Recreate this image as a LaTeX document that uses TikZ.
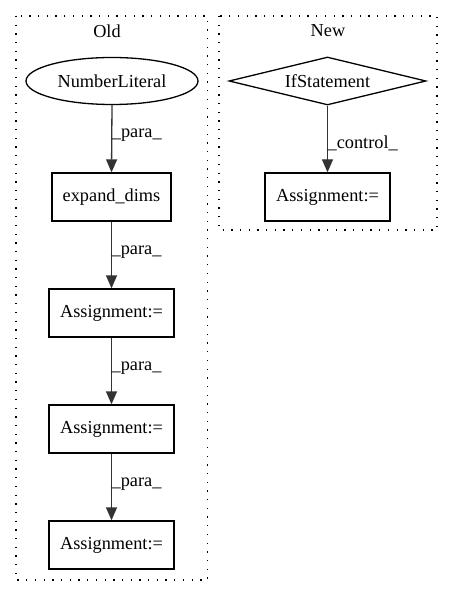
\documentclass[tikz,border=0pt]{standalone}
\usepackage{fontspec}
\setmainfont{Liberation Serif}
\usetikzlibrary{shapes.geometric,arrows.meta}
\begin{document}
\begin{tikzpicture}[x=1pt,y=-1pt,
  every node/.style={font=\fontsize{18.3}{20}\selectfont},
  box/.style={draw,line width=1.3pt,rectangle,inner sep=0pt,minimum width=122pt,minimum height=48pt},
  ell/.style={draw,line width=1.3pt,ellipse,inner sep=0pt,minimum width=172pt,minimum height=47pt},
  dia/.style={draw,line width=1.3pt,diamond,shape aspect=4,inner sep=0pt,minimum width=197pt,minimum height=48pt},
  cluster/.style={line width=1.3pt,dash pattern=on 1.3pt off 7.4pt},
  edge/.style={line width=1.3pt,draw=black!80,-{Triangle[length=13pt,width=11pt]}},
  lbl/.style={anchor=west,inner sep=0pt}]
\useasboundingbox (0,0) rectangle (453,596);
% clusters
\draw[cluster] (16,16) rectangle (207.5,580);
\draw[cluster] (219,16) rectangle (437,230);
\node (toldtitle) at (107,31) {Old};
\node (tnewtitle) at (328,31) {New};
% Old nodes
\node[ell] (nl) at (112,81) {NumberLiteral};
\node[box,minimum width=119pt] (ed) at (111.5,197) {expand\_dims};
\node[box,minimum width=125pt] (a1) at (111.5,313) {Assignment:=};
\node[box,minimum width=125pt] (a2) at (111.5,429) {Assignment:=};
\node[box,minimum width=125pt] (a3) at (111.5,545) {Assignment:=};
% New nodes
\node[dia] (ifs) at (327.5,81) {IfStatement};
\node[box,minimum width=125pt] (na) at (327.5,197) {Assignment:=};
% edges
\draw[edge] (nl.south) -- (ed.north) node[lbl,pos=0.45,xshift=-0.5pt] {\_para\_};
\draw[edge] (ed.south) -- (a1.north) node[lbl,pos=0.45,xshift=-0.5pt] {\_para\_};
\draw[edge] (a1.south) -- (a2.north) node[lbl,pos=0.45,xshift=-0.5pt] {\_para\_};
\draw[edge] (a2.south) -- (a3.north) node[lbl,pos=0.45,xshift=-0.5pt] {\_para\_};
\draw[edge] (ifs.south) -- (na.north) node[lbl,pos=0.57,xshift=-0.5pt] {\_control\_};
\end{tikzpicture}
\end{document}
